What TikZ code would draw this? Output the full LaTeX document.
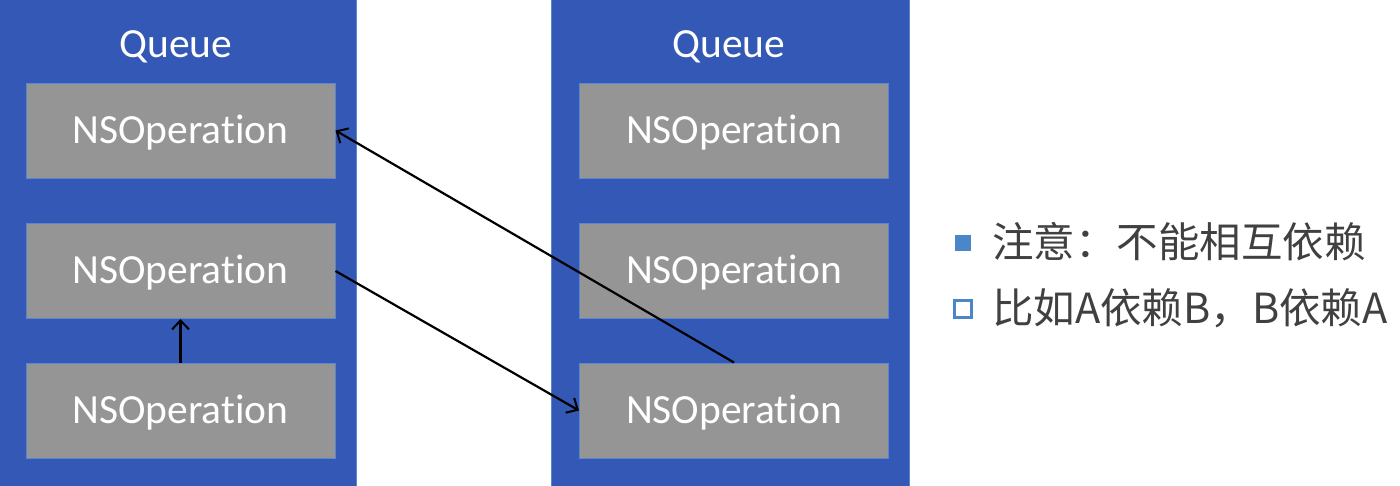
\documentclass[tikz,border=0pt]{standalone}
\usepackage{fontspec}
\setmainfont{Carlito}[Ligatures=NoCommon]
\newfontfamily\cjk{Noto Sans CJK SC}
\usetikzlibrary{arrows.meta}
\definecolor{qblue}{HTML}{3458B6}
\definecolor{qedge}{HTML}{5A86D0}
\definecolor{opgray}{HTML}{959595}
\definecolor{txtgray}{HTML}{404040}
\definecolor{bullet}{HTML}{4A86C8}
\tikzset{
  panel/.style={fill=qblue, draw=qedge, line width=0.8pt, minimum width=357pt, minimum height=490pt, inner sep=0pt, anchor=north west},
  opbox/.style={fill=opgray, draw=qedge, line width=1pt, minimum width=309pt, minimum height=95pt, inner sep=0pt, text height=30pt, text depth=5pt, text=white, font=\fontsize{41.5}{44}\selectfont},
  qlabel/.style={text=white, font=\fontsize{41.5}{44}\selectfont},
  dep/.style={line width=2.2pt, -{Straight Barb[length=9pt,width=17pt,line width=2pt]}},
  btext/.style={anchor=west, text=txtgray, font=\cjk\fontsize{41.5}{44}\selectfont, inner sep=0pt},
}
\begin{document}
\begin{tikzpicture}[x=1pt,y=-1pt]
\useasboundingbox (0,0) rectangle (1400,485);
\node[panel] (q1) at (-1,-3) {};
\node[panel, minimum width=358pt] (q2) at (551,-3) {};
\node[qlabel] (t1) at (176,47) {Queue};
\node[qlabel] (t2) at (729,47) {Queue};
\node[opbox] (l1) at (180.5,130.5) {NSOperation};
\node[opbox] (l2) at (180.5,271) {NSOperation};
\node[opbox] (l3) at (180.5,410.5) {NSOperation};
\node[opbox] (r1) at (734,130.5) {NSOperation};
\node[opbox] (r2) at (734,271) {NSOperation};
\node[opbox] (r3) at (734,410.5) {NSOperation};
\draw[dep] (l3.north) -- (l2.south);
\draw[dep] (l2.east) -- (r3.west);
\draw[dep] (r3.north) -- (l1.east);
\node[fill=bullet, minimum size=16.5pt, inner sep=0pt] (b1) at (963,243) {};
\node[draw=bullet, line width=3pt, minimum size=16.5pt, inner sep=0pt] (b2) at (963,309) {};
\node[btext] (s1) at (992,242) {注意：不能相互依赖};
\node[btext] (s2) at (992,308) {比如A依赖B，B依赖A};
\end{tikzpicture}
\end{document}
